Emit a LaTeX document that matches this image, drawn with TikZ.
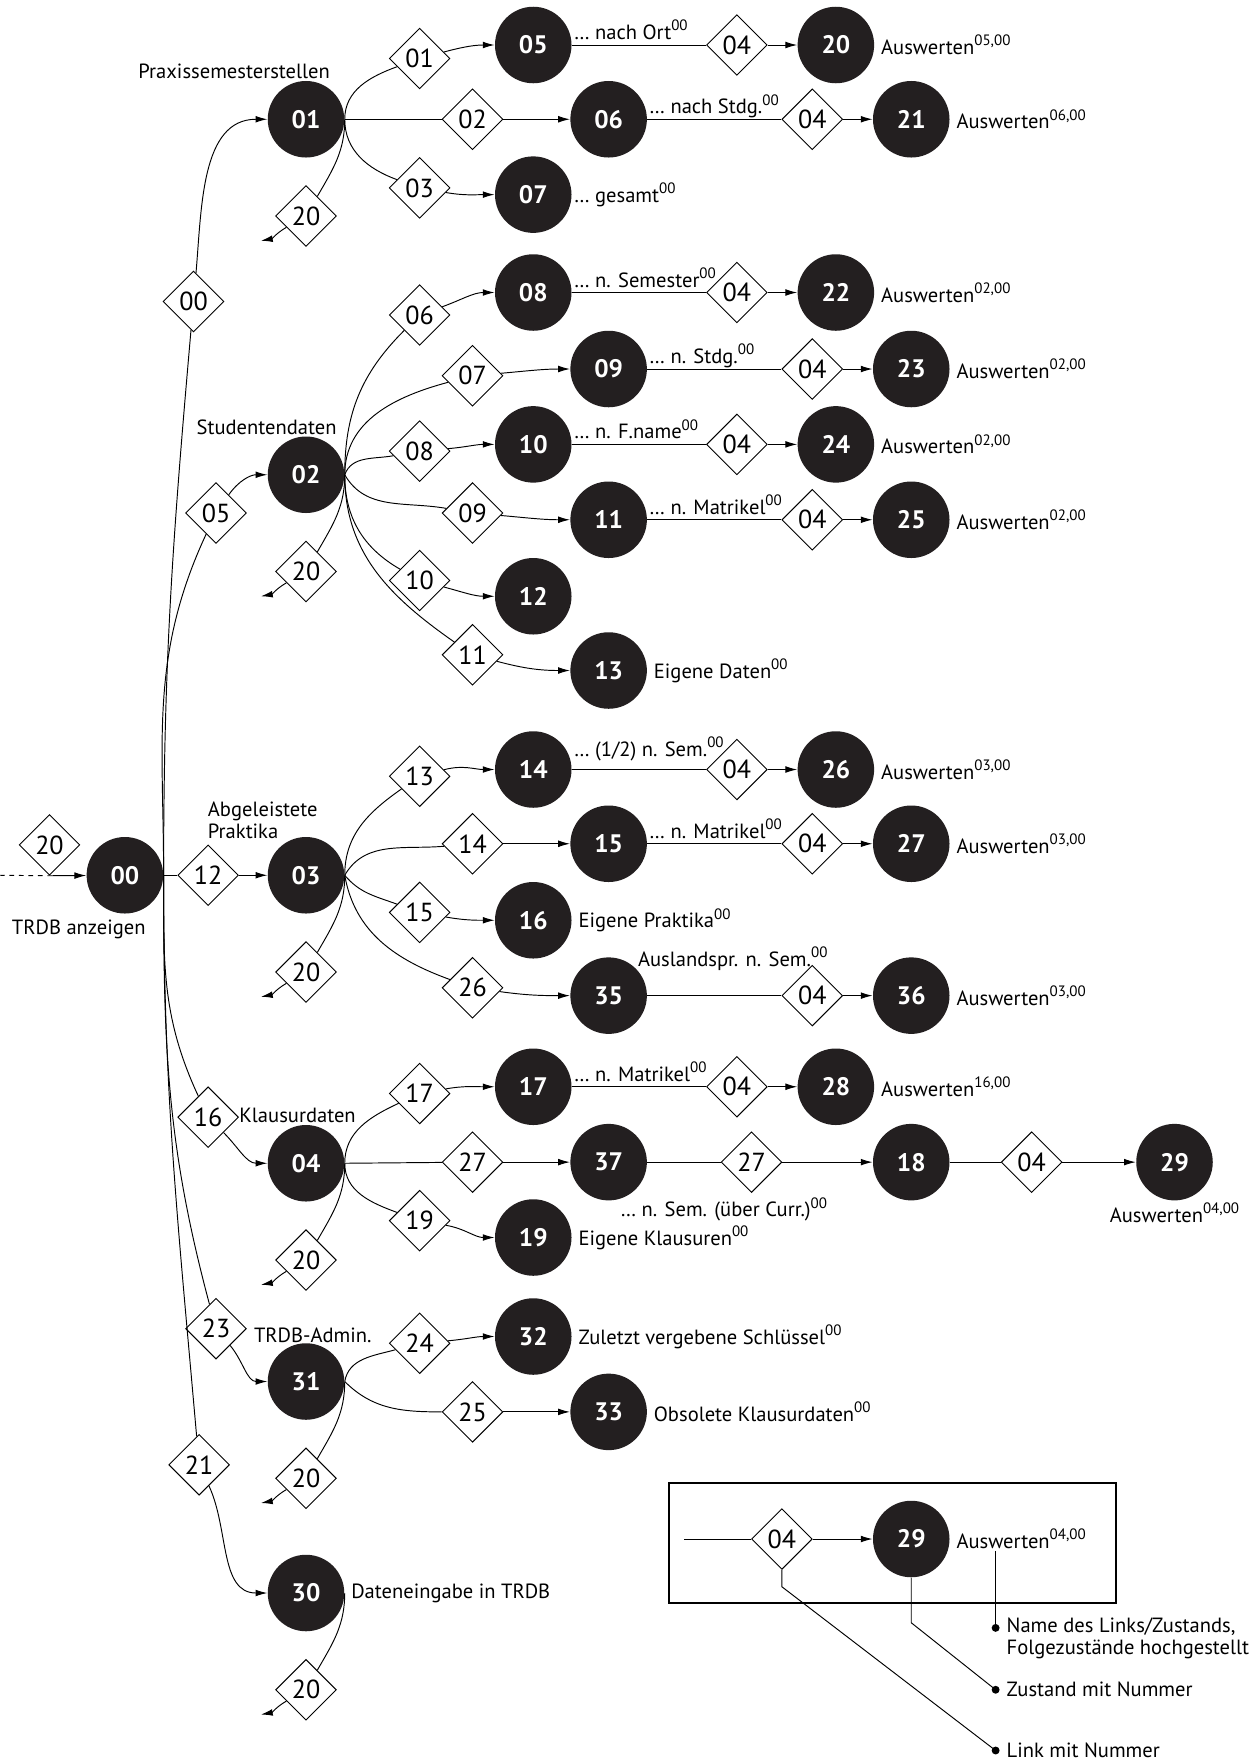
\documentclass[tikz,border=0pt]{standalone}
\usepackage{fontspec}
\setmainfont{PT Sans}
\usepackage{tikz}
\usetikzlibrary{arrows.meta, positioning, shapes.geometric, calc}
\definecolor{zustand}{RGB}{35, 31, 32}
\newcommand{\hoch}[1]{\raisebox{0.85ex}{\fontsize{9.5}{9.5}\selectfont #1}}

\begin{document}
\begin{tikzpicture}[x=0.025cm, y=0.025cm,
    line width=0.6pt,
    >={Latex[length=2.6mm,width=1.5mm]},
    zst/.style={circle, fill=zustand, text=white, minimum size=1.7cm, inner sep=0pt, font=\fontsize{16}{16}\selectfont\bfseries},
    lnk/.style={diamond, draw, fill=white, minimum size=1.35cm, inner sep=0pt, font=\fontsize{16.5}{16.5}\selectfont},
    lbl/.style={font=\fontsize{13}{14}\selectfont, inner sep=1pt},
    rlbl/.style={lbl, anchor=west, xshift=0.1cm}
]
\useasboundingbox (0,0) rectangle (1116,-1568);

% Zustaende
\node[zst] (n00) at (111,-778) {00};
\node[zst] (n01) at (272,-106) {01};
\node[zst] (n02) at (272,-422) {02};
\node[zst] (n03) at (272,-778) {03};
\node[zst] (n04) at (272,-1034) {04};
\node[zst] (n31) at (272,-1228) {31};
\node[zst] (n30) at (272,-1416) {30};
\node[zst] (n05) at (474,-40) {05};
\node[zst] (n06) at (541,-106) {06};
\node[zst] (n07) at (474,-173) {07};
\node[zst] (n20) at (743,-40) {20};
\node[zst] (n21) at (810,-106) {21};
\node[zst] (n08) at (474,-260) {08};
\node[zst] (n09) at (541,-328) {09};
\node[zst] (n10) at (474,-395) {10};
\node[zst] (n11) at (541,-462) {11};
\node[zst] (n12) at (474,-530) {12};
\node[zst] (n13) at (541,-596) {13};
\node[zst] (n22) at (743,-260) {22};
\node[zst] (n23) at (810,-328) {23};
\node[zst] (n24) at (743,-395) {24};
\node[zst] (n25) at (810,-462) {25};
\node[zst] (n14) at (474,-684) {14};
\node[zst] (n15) at (541,-750) {15};
\node[zst] (n16) at (474,-818) {16};
\node[zst] (n35) at (541,-885) {35};
\node[zst] (n26) at (743,-684) {26};
\node[zst] (n27) at (810,-750) {27};
\node[zst] (n36) at (810,-885) {36};
\node[zst] (n17) at (474,-966) {17};
\node[zst] (n37) at (541,-1033) {37};
\node[zst] (n19) at (474,-1100) {19};
\node[zst] (n28) at (743,-966) {28};
\node[zst] (n18) at (810,-1033) {18};
\node[zst] (n29) at (1044,-1033) {29};
\node[zst] (n32) at (474,-1188) {32};
\node[zst] (n33) at (541,-1255) {33};

% Links
\node[lnk] (r00) at (44,-751) {20};
\node[lnk] (d01) at (172,-268) {00};
\node[lnk] (d02) at (192,-456) {05};
\node[lnk] (d03) at (185,-778) {12};
\node[lnk] (d04) at (185,-993) {16};
\node[lnk] (d31) at (192,-1181) {23};
\node[lnk] (d30) at (177,-1302) {21};
\node[lnk] (d05) at (373,-52) {01};
\node[lnk] (d06) at (420,-106) {02};
\node[lnk] (d07) at (373,-167) {03};
\node[lnk] (d20) at (655,-40) {04};
\node[lnk] (d21) at (722,-106) {04};
\node[lnk] (d08) at (373,-280) {06};
\node[lnk] (d09) at (420,-334) {07};
\node[lnk] (d10) at (373,-401) {08};
\node[lnk] (d11) at (420,-456) {09};
\node[lnk] (d12) at (373,-516) {10};
\node[lnk] (d13) at (420,-582) {11};
\node[lnk] (d22) at (655,-260) {04};
\node[lnk] (d23) at (722,-328) {04};
\node[lnk] (d24) at (655,-395) {04};
\node[lnk] (d25) at (722,-462) {04};
\node[lnk] (d14) at (373,-690) {13};
\node[lnk] (d15) at (420,-750) {14};
\node[lnk] (d16) at (373,-811) {15};
\node[lnk] (d35) at (420,-878) {26};
\node[lnk] (d26) at (655,-684) {04};
\node[lnk] (d27) at (722,-750) {04};
\node[lnk] (d36) at (722,-885) {04};
\node[lnk] (d17) at (373,-972) {17};
\node[lnk] (d37) at (420,-1033) {27};
\node[lnk] (d19) at (373,-1085) {19};
\node[lnk] (d28) at (655,-966) {04};
\node[lnk] (d18) at (668,-1033) {27};
\node[lnk] (d29) at (917,-1033) {04};
\node[lnk] (d32) at (373,-1194) {24};
\node[lnk] (d33) at (420,-1255) {25};

% Beschriftungen
\node[lbl] (t00) at (70,-826) {TRDB anzeigen};
\node[lbl, anchor=base east] (h01) at (295,-70) {Praxissemesterstellen};
\node[lbl, anchor=base east] (h02) at (301,-386) {Studentendaten};
\node[lbl, anchor=north west, align=left] (h03) at (183,-711) {Abgeleistete\\Praktika};
\node[lbl, anchor=base west] (h04) at (211,-998) {Klausurdaten};
\node[lbl, anchor=base west] (h31) at (224,-1193) {TRDB-Admin.};
\node[rlbl] (t30) at (n30.east) {Dateneingabe in TRDB};

\node[lbl, anchor=base west] (t05) at ([yshift=0.12cm]n05.east) {… nach Ort\hoch{00}};
\node[lbl, anchor=base west] (t06) at ([yshift=0.12cm]n06.east) {… nach Stdg.\hoch{00}};
\node[lbl, anchor=west] (t07) at (n07.east) {… gesamt\hoch{00}};
\node[lbl, anchor=base west] (t08) at ([yshift=0.12cm]n08.east) {… n. Semester\hoch{00}};
\node[lbl, anchor=base west] (t09) at ([yshift=0.12cm]n09.east) {… n. Stdg.\hoch{00}};
\node[lbl, anchor=base west] (t10) at ([yshift=0.12cm]n10.east) {… n. F.name\hoch{00}};
\node[lbl, anchor=base west] (t11) at ([yshift=0.12cm]n11.east) {… n. Matrikel\hoch{00}};
\node[rlbl] (t13) at (n13.east) {Eigene Daten\hoch{00}};
\node[lbl, anchor=base west] (t14) at ([yshift=0.3cm]n14.east) {… (1/2) n. Sem.\hoch{00}};
\node[lbl, anchor=base west] (t15) at ([yshift=0.12cm]n15.east) {… n. Matrikel\hoch{00}};
\node[rlbl] (t16) at (n16.east) {Eigene Praktika\hoch{00}};
\node[lbl, anchor=base west] (t35) at ([yshift=0.05cm]n35.north east) {Auslandspr. n. Sem.\hoch{00}};
\node[lbl, anchor=base west] (t17) at ([yshift=0.12cm]n17.east) {… n. Matrikel\hoch{00}};
\node[lbl, anchor=north west] (t37) at ([xshift=0.22cm,yshift=0.12cm]n37.south) {… n. Sem. (über Curr.)\hoch{00}};
\node[rlbl] (t19) at (n19.east) {Eigene Klausuren\hoch{00}};
\node[rlbl] (t32) at (n32.east) {Zuletzt vergebene Schlüssel\hoch{00}};
\node[rlbl] (t33) at (n33.east) {Obsolete Klausurdaten\hoch{00}};

\node[rlbl] (t20) at (n20.east) {Auswerten\hoch{05,00}};
\node[rlbl] (t21) at (n21.east) {Auswerten\hoch{06,00}};
\node[rlbl] (t22) at (n22.east) {Auswerten\hoch{02,00}};
\node[rlbl] (t23) at (n23.east) {Auswerten\hoch{02,00}};
\node[rlbl] (t24) at (n24.east) {Auswerten\hoch{02,00}};
\node[rlbl] (t25) at (n25.east) {Auswerten\hoch{02,00}};
\node[rlbl] (t26) at (n26.east) {Auswerten\hoch{03,00}};
\node[rlbl] (t27) at (n27.east) {Auswerten\hoch{03,00}};
\node[rlbl] (t36) at (n36.east) {Auswerten\hoch{03,00}};
\node[rlbl] (t28) at (n28.east) {Auswerten\hoch{16,00}};
\node[lbl, anchor=north] (t29) at (n29.south) {Auswerten\hoch{04,00}};

% Einstieg
\coordinate (s00) at (0,-778);
\draw[dashed] (s00) -- (r00.south);
\draw[->] (r00.south) -- (n00);

% von 00
\draw (n00.east) to[out=90,in=-95] (d01);
\draw[->] (d01) to[out=85,in=180] (n01);
\draw (n00.east) to[out=90,in=-115] (d02);
\draw[->] (d02) to[out=55,in=180] (n02);
\draw (n00.east) -- (d03);
\draw[->] (d03) -- (n03);
\draw (n00.east) to[out=-90,in=115] (d04);
\draw[->] (d04) to[out=-45,in=180] (n04);
\draw (n00.east) to[out=-90,in=105] (d31);
\draw[->] (d31) to[out=-50,in=180] (n31);
\draw (n00.east) to[out=-90,in=95] (d30);
\draw[->] (d30) to[out=-65,in=180] (n30);

% von 01
\draw (n01.east) to[out=90,in=-160] (d05);
\draw[->] (d05) to[out=15,in=180] (n05);
\draw (n01.east) -- (d06);
\draw[->] (d06) -- (n06);
\draw (n01.east) to[out=-90,in=160] (d07);
\draw[->] (d07) to[out=-10,in=180] (n07);

% von 02
\draw (n02.east) to[out=90,in=-135] (d08);
\draw[->] (d08) to[out=20,in=180] (n08);
\draw (n02.east) to[out=90,in=195] (d09);
\draw[->] (d09) to[out=5,in=180] (n09);
\draw (n02.east) to[out=70,in=190] (d10);
\draw[->] (d10) to[out=5,in=180] (n10);
\draw (n02.east) to[out=-60,in=170] (d11);
\draw[->] (d11) to[out=-5,in=180] (n11);
\draw (n02.east) to[out=-90,in=150] (d12);
\draw[->] (d12) to[out=-15,in=180] (n12);
\draw (n02.east) to[out=-90,in=145] (d13);
\draw[->] (d13) to[out=-15,in=180] (n13);

% von 03
\draw (n03.east) to[out=90,in=-145] (d14);
\draw[->] (d14) to[out=15,in=180] (n14);
\draw (n03.east) to[out=60,in=185] (d15);
\draw[->] (d15) -- (n15);
\draw (n03.east) to[out=-50,in=160] (d16);
\draw[->] (d16) to[out=-10,in=180] (n16);
\draw (n03.east) to[out=-80,in=160] (d35);
\draw[->] (d35) to[out=-8,in=180] (n35);

% von 04
\draw (n04.east) to[out=90,in=-155] (d17);
\draw[->] (d17) to[out=10,in=180] (n17);
\draw (n04.east) -- (d37);
\draw[->] (d37) -- (n37);
\draw (n04.east) to[out=-90,in=160] (d19);
\draw[->] (d19) to[out=-10,in=180] (n19);

% von 31
\draw (n31.east) to[out=80,in=-165] (d32);
\draw[->] (d32) to[out=5,in=180] (n32);
\draw (n31.east) to[out=-45,in=180] (d33);
\draw[->] (d33) -- (n33);

% Auswertungen
\foreach \von/\nach in {05/20, 06/21, 08/22, 09/23, 10/24, 11/25, 14/26, 15/27, 35/36, 17/28, 37/18, 18/29} {
  \draw (n\von) -- (d\nach);
  \draw[->] (d\nach) -- (n\nach);
}

% Ruecksprung 20
\foreach \s/\y in {01/106, 02/422, 03/778, 04/1034, 31/1228, 30/1416} {
  \node[lnk] (r\s) at (272,-\y-86) {20};
  \coordinate (e\s) at (232,-\y-108);
  \draw (n\s.east) to[out=-90,in=60] (r\s);
  \draw[->] (r\s) to[out=-150,in=10] (e\s);
}

% Legende
\draw[line width=1.2pt] (595,-1318) rectangle (992,-1425);
\coordinate (lg0) at (608,-1368);
\node[lnk] (lg04) at (695,-1368) {04};
\node[zst] (lg29) at (810,-1368) {29};
\node[rlbl] (lgt) at (lg29.east) {Auswerten\hoch{04,00}};
\draw (lg0) -- (lg04);
\draw[->] (lg04) -- (lg29);
\coordinate (b1) at (885,-1447);
\coordinate (b2) at (885,-1502);
\coordinate (b3) at (885,-1556);
\draw (lgt.south -| b1) -- (b1);
\draw (lg29.south) -- ++(0,-40) -- (b2);
\draw (lg04.south) -- ++(0,-15) -- (b3);
\fill (b1) circle (2.5pt);
\fill (b2) circle (2.5pt);
\fill (b3) circle (2.5pt);
\node[lbl, anchor=west, align=left] (lb1) at ([xshift=0.2cm,yshift=-0.24cm]b1) {Name des Links/Zustands,\\Folgezustände hochgestellt};
\node[lbl, anchor=west] (lb2) at ([xshift=0.2cm]b2) {Zustand mit Nummer};
\node[lbl, anchor=west] (lb3) at ([xshift=0.2cm]b3) {Link mit Nummer};
\end{tikzpicture}
\end{document}
